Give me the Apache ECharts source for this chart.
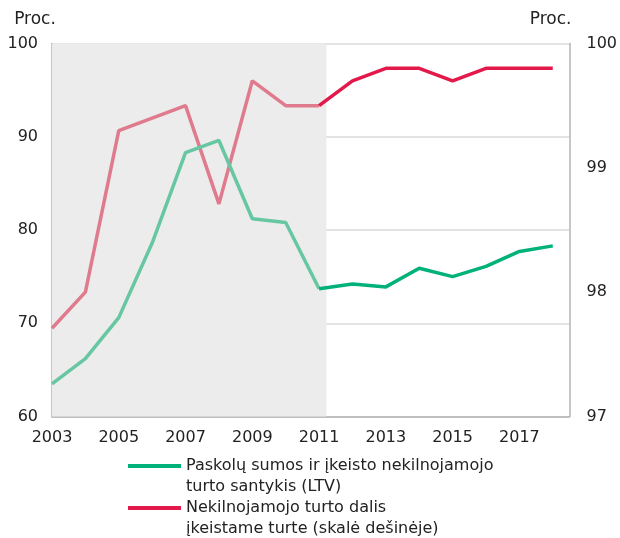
<!DOCTYPE html>
<html>
<head>
<meta charset="utf-8">
<script src="https://cdn.jsdelivr.net/npm/echarts@6/dist/echarts.min.js"></script>
<style>
  html, body { margin: 0; padding: 0; background: #fff; }
  #chart { width: 620px; height: 538px; }
</style>
</head>
<body>
<div id="chart"></div>
<script>
  // metai
  var years = [2003, 2004, 2005, 2006, 2007, 2008, 2009, 2010, 2011, 2012, 2013, 2014, 2015, 2016, 2017, 2018];
  // LTV, kairė skalė
  var ltv = [63.5, 66.2, 70.6, 78.6, 88.3, 89.6, 81.2, 80.8, 73.7, 74.2, 73.9, 75.9, 75.0, 76.1, 77.7, 78.3];
  // nekilnojamojo turto dalis, dešinė skalė
  var reShare = [97.71, 98.0, 99.3, 99.4, 99.5, 98.71, 99.7, 99.5, 99.5, 99.7, 99.8, 99.8, 99.7, 99.8, 99.8, 99.8];
  var xTicks = [2003, 2005, 2007, 2009, 2011, 2013, 2015, 2017];
  var splitYear = 2011;       // nuo čia ryškios linijos
  var shadeEnd = 2011.22;     // pilkas fonas iki čia

  var nameLtv = 'Paskolų sumos ir įkeisto nekilnojamojo\nturto santykis (LTV)';
  var nameRe = 'Nekilnojamojo turto dalis\nįkeistame turte (skalė dešinėje)';

  function pairs(vals, from, to) {
    var out = [];
    for (var i = 0; i < years.length; i++) {
      if (years[i] >= from && years[i] <= to) out.push([years[i], vals[i]]);
    }
    return out;
  }

  var font = 'DejaVu Sans';
  var chart = echarts.init(document.getElementById('chart'));

  // tuščia pirma eilutė, kad linija būtų ties pirmąja teksto eilute
  var legendBase = {
    orient: 'vertical',
    left: 128,
    padding: 0,
    icon: 'rect',
    itemWidth: 53,
    itemHeight: 4,
    selectedMode: false,
    formatter: function (n) { return '\n' + n; },
    textStyle: { fontFamily: font, fontSize: 16, color: '#222', lineHeight: 21 }
  };

  chart.setOption({
    animation: false,
    textStyle: { fontFamily: font },
    grid: { left: 52, right: 47, top: 43.5, bottom: 121.5 },
    legend: [
      Object.assign({}, legendBase, { top: 434.5, data: [nameLtv] }),
      Object.assign({}, legendBase, { top: 476.5, data: [nameRe] })
    ],
    xAxis: {
      type: 'value',
      min: 2003,
      max: 2018.5,
      interval: 2,
      axisLine: { show: true, lineStyle: { color: '#b3b3b3', width: 1.5 } },
      axisTick: { show: false },
      splitLine: { show: false },
      axisLabel: {
        show: true, margin: 13, fontSize: 16, color: '#222', fontFamily: font,
        showMaxLabel: false,
        formatter: function (v) { return xTicks.indexOf(v) >= 0 ? String(v) : ''; }
      }
    },
    yAxis: [
      {
        type: 'value', min: 60, max: 100, interval: 10,
        name: 'Proc.', nameLocation: 'end', nameGap: 15,
        nameTextStyle: { fontFamily: font, fontSize: 17, color: '#222', align: 'center', padding: [0, 34, 0, 0] },
        axisLine: { show: true, lineStyle: { color: '#b3b3b3', width: 1.5 } },
        axisTick: { show: false },
        axisLabel: { margin: 14, fontSize: 16, color: '#222', fontFamily: font },
        splitLine: { show: true, lineStyle: { color: '#dadada', width: 1.5 } }
      },
      {
        type: 'value', min: 97, max: 100, interval: 1, position: 'right',
        name: 'Proc.', nameLocation: 'end', nameGap: 15,
        nameTextStyle: { fontFamily: font, fontSize: 17, color: '#222', align: 'right', padding: [0, -2, 0, 0] },
        axisLine: { show: true, lineStyle: { color: '#b3b3b3', width: 1.5 } },
        axisTick: { show: false },
        axisLabel: { margin: 17, fontSize: 16, color: '#222', fontFamily: font },
        splitLine: { show: false }
      }
    ],
    series: [
      {
        name: 'reShaded', type: 'line', yAxisIndex: 1,
        data: pairs(reShare, 2003, splitYear),
        showSymbol: false, lineStyle: { color: '#e07a8d', width: 3.5 }, itemStyle: { color: '#e07a8d' },
        markArea: {
          silent: true,
          itemStyle: { color: '#ececec' },
          data: [[{ xAxis: 2003 }, { xAxis: shadeEnd }]]
        },
        z: 2
      },
      {
        name: nameRe, type: 'line', yAxisIndex: 1,
        data: pairs(reShare, splitYear, 2018),
        showSymbol: false, lineStyle: { color: '#e4194b', width: 3.5 }, itemStyle: { color: '#e4194b' },
        z: 2
      },
      {
        name: 'ltvShaded', type: 'line', yAxisIndex: 0,
        data: pairs(ltv, 2003, splitYear),
        showSymbol: false, lineStyle: { color: '#66c7a2', width: 3.5 }, itemStyle: { color: '#66c7a2' },
        z: 3
      },
      {
        name: nameLtv, type: 'line', yAxisIndex: 0,
        data: pairs(ltv, splitYear, 2018),
        showSymbol: false, lineStyle: { color: '#00b17a', width: 3.5 }, itemStyle: { color: '#00b17a' },
        z: 3
      }
    ]
  });
</script>
</body>
</html>
